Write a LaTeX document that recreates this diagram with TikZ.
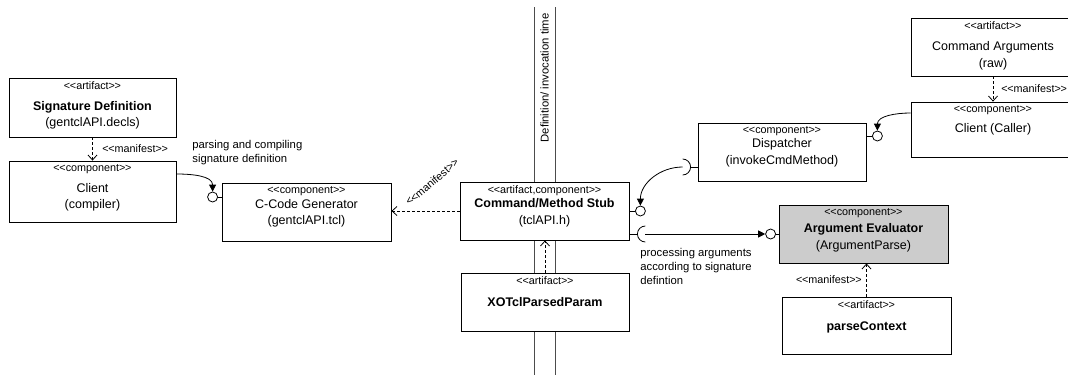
\documentclass[tikz,border=0pt]{standalone}
\usepackage{fontspec}
\setmainfont{Liberation Sans}
\usetikzlibrary{arrows.meta,positioning}
\newcommand{\stype}[1]{\textless\kern-0.3pt\textless#1\textgreater\kern-0.3pt\textgreater}

\tikzset{
  comp/.style={draw, fill=white, minimum width=169pt, minimum height=58pt, inner sep=0pt},
  stereo/.style={anchor=north, inner sep=0pt, font=\fontsize{10.8}{12}\selectfont},
  nametext/.style={inner sep=0pt, align=center, font=\fontsize{12.5}{16.5}\selectfont},
  remark/.style={inner sep=0pt, align=left, font=\fontsize{11.3}{14}\selectfont},
  ball/.style={circle, draw, fill=white, minimum size=10pt, inner sep=0pt},
  manifest/.style={dash pattern=on 3pt off 2pt, -{Straight Barb[length=5pt,width=9pt]}},
  uses/.style={-{Triangle[length=7pt,width=7pt]}},
  lane/.style={black!70}
}

\begin{document}
\begin{tikzpicture}[x=1pt,y=-1pt,line width=0.8pt]
\useasboundingbox (0,0) rectangle (1068,375);
\clip (0,0) rectangle (1068,375);

% swimlane
\draw[lane] (534,7) -- (534,375);
\draw[lane] (555,7) -- (555,375);
\node[remark, rotate=90] (lanelabel) at (544.5,78) {Definition/ invocation time};

% components and artifacts
\node[comp, minimum width=167pt, minimum height=59pt] (sig) at (92.5,107.5) {};
\node[comp, minimum width=167pt, minimum height=61pt] (compiler) at (92.5,191.5) {};
\node[comp] (gen) at (306.5,212) {};
\node[comp] (stub) at (544.5,211) {};
\node[comp, minimum width=168pt] (parsed) at (545,302) {};
\node[comp, minimum width=168pt] (disp) at (782,152) {};
\node[comp, minimum width=164pt] (cmdargs) at (993,47) {};
\node[comp, minimum width=164pt, minimum height=55pt] (caller) at (993,129.5) {};
\node[comp, fill=black!20] (argeval) at (863.5,234) {};
\node[comp, minimum height=57pt] (ctx) at (866.5,325.5) {};

\node[stereo] (sigst) at ([yshift=-3.5pt]sig.north) {\stype{artifact}};
\node[stereo] (compilerst) at ([yshift=-3.5pt]compiler.north) {\stype{component}};
\node[stereo] (genst) at ([yshift=-3.5pt]gen.north) {\stype{component}};
\node[stereo] (stubst) at ([yshift=-3.5pt]stub.north) {\stype{artifact,component}};
\node[stereo] (parsedst) at ([yshift=-3.5pt]parsed.north) {\stype{artifact}};
\node[stereo] (dispst) at ([yshift=-3.5pt]disp.north) {\stype{component}};
\node[stereo] (cmdargsst) at ([yshift=-3.5pt]cmdargs.north) {\stype{artifact}};
\node[stereo] (callerst) at ([yshift=-3.5pt]caller.north) {\stype{component}};
\node[stereo] (argevalst) at ([yshift=-3.5pt]argeval.north) {\stype{component}};
\node[stereo] (ctxst) at ([yshift=-3.5pt]ctx.north) {\stype{artifact}};

\node[nametext] (signame) at (92.5,115.5) {{\bfseries Signature Definition}\\(gentclAPI.decls)};
\node[nametext] (compilername) at (92.5,197.5) {Client\\(compiler)};
\node[nametext] (genname) at (306.5,213.5) {C-Code Generator\\(gentclAPI.tcl)};
\node[nametext] (stubname) at (544.5,213) {{\bfseries Command/Method Stub}\\(tclAPI.h)};
\node[nametext, font=\fontsize{12.5}{16.5}\selectfont\bfseries] (parsedname) at (545,302) {XOTclParsedParam};
\node[nametext] (dispname) at (782,153) {Dispatcher\\(invokeCmdMethod)};
\node[nametext] (cmdargsname) at (993,56) {Command Arguments\\(raw)};
\node[nametext] (callername) at (993,129) {Client (Caller)};
\node[nametext] (argevalname) at (863.5,238) {{\bfseries Argument Evaluator}\\(ArgumentParse)};
\node[nametext, font=\fontsize{12.5}{16.5}\selectfont\bfseries] (ctxname) at (866.5,327) {parseContext};

% manifest dependencies
\draw[manifest] (sig.south) -- (compiler.north);
\draw[manifest] (cmdargs.south) -- (caller.north);
\draw[manifest] (stub.west) -- (stub.west -| gen.east);
\draw[manifest] (parsed.north) -- (parsed.north |- stub.south);
\draw[manifest] (ctx.north) -- (ctx.north |- argeval.south);
\node[stereo, anchor=west] (sigman) at (102,149) {\stype{manifest}};
\node[stereo, anchor=west] (cmdargsman) at (1001,89) {\stype{manifest}};
\node[stereo, anchor=east] (ctxman) at (862,280) {\stype{manifest}};
\node[stereo, anchor=center, rotate=40] (genman) at (432,182) {\stype{manifest}};

% provided interfaces
\node[ball] (genball) at ([shift={(-9pt,15pt)}]gen.west) {};
\node[ball] (stubball) at ([xshift=11pt]stub.east) {};
\node[ball] (dispball) at ([shift={(11pt,16pt)}]disp.east) {};
\node[ball] (argball) at ([xshift=-8pt]argeval.west) {};
\draw (genball.east) -- (genball.east -| gen.west);
\draw (stub.east) -- (stubball.west);
\draw (dispball.west) -- (dispball.west -| disp.east);
\draw (argball.east) -- (argeval.west);

% required interfaces
\coordinate (dispsock) at ([shift={(-15pt,-15pt)}]disp.west);
\coordinate (stubsock) at ([shift={(16pt,-23pt)}]stub.east);
\draw ([yshift=-15pt]disp.west) -- ([xshift=8pt]dispsock);
\draw ([yshift=8pt]dispsock) arc[start angle=90, end angle=-90, radius=8pt];
\draw ([yshift=-23pt]stub.east) -- ([xshift=-8pt]stubsock);
\draw ([yshift=8pt]stubsock) arc[start angle=90, end angle=270, radius=8pt];

% usage
\draw[uses] ([yshift=17.5pt]compiler.east) to[out=0,in=90] (genball.north);
\draw[uses] ([yshift=16.5pt]caller.west) to[out=180,in=90] (dispball.north);
\draw[uses] (dispsock) to[out=180,in=90] (stubball.north);
\draw[uses] (stubsock) -- (argball.west);

\node[remark, anchor=west] (parsenote) at (192,153) {parsing and compiling\\signature definition};
\node[remark, anchor=west] (procnote) at (640,266) {processing arguments\\according to signature\\defintion};
\end{tikzpicture}
\end{document}
